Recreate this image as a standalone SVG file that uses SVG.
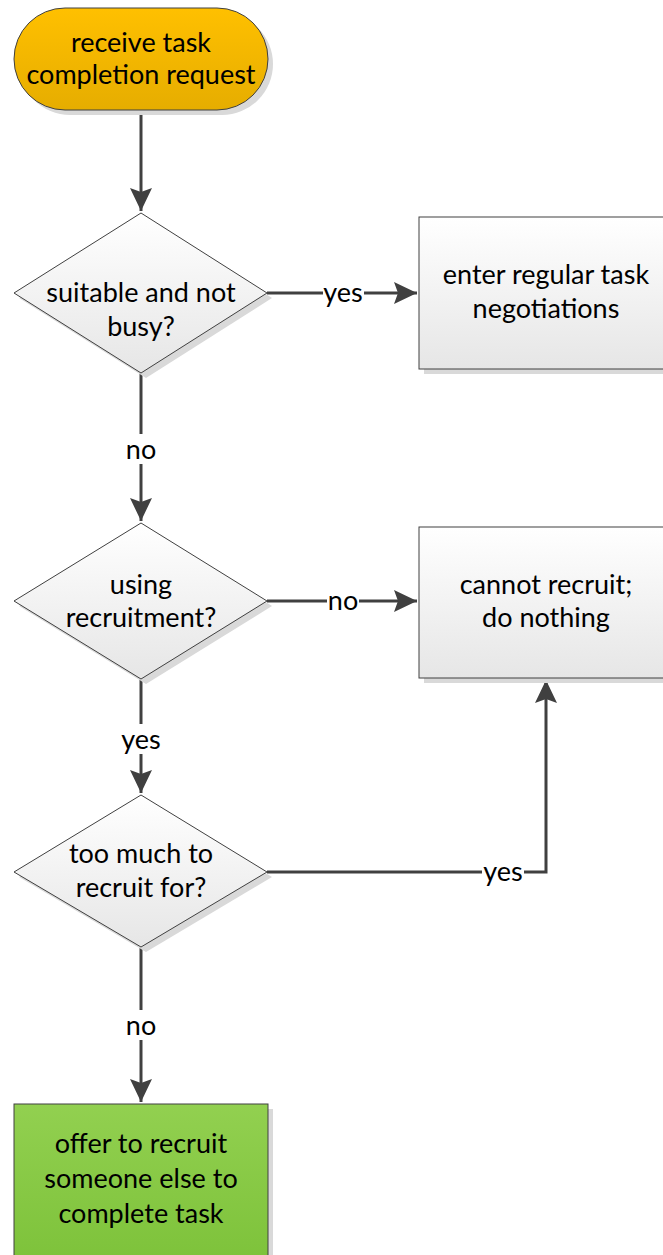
<svg xmlns="http://www.w3.org/2000/svg" width="663" height="1255" viewBox="0 0 663 1255">
<style>
text{font-family:Lato,"Liberation Sans",sans-serif;font-size:27px;fill:#000;text-anchor:middle}
.lbl{font-size:27px}
.shape{stroke:#404040;stroke-width:1}
.shadow{fill:#d9d9d9}
.conn{fill:none;stroke:#404040;stroke-width:3}
.lblbg{fill:#fff}
</style>
<defs>
<linearGradient id="gGray" x1="0" y1="0" x2="0" y2="1"><stop offset="0" stop-color="#ffffff"/><stop offset="1" stop-color="#e6e6e6"/></linearGradient>
<linearGradient id="gOrange" x1="0" y1="0" x2="0" y2="1"><stop offset="0" stop-color="#ffc000"/><stop offset="1" stop-color="#e6ad00"/></linearGradient>
<linearGradient id="gGreen" x1="0" y1="0" x2="0" y2="1"><stop offset="0" stop-color="#92d050"/><stop offset="1" stop-color="#7dc23a"/></linearGradient>
<marker id="arr" markerUnits="userSpaceOnUse" markerWidth="24" markerHeight="24" refX="23" refY="12" orient="auto"><path d="M0,1 L23,12 L0,23 L4,12 Z" fill="#404040"/></marker>
</defs>
<g id="connectors">
<path class="conn" d="M141,110 V211" marker-end="url(#arr)"/>
<path class="conn" d="M267,293 H417" marker-end="url(#arr)"/>
<path class="conn" d="M141,373 V521" marker-end="url(#arr)"/>
<path class="conn" d="M267,601 H417" marker-end="url(#arr)"/>
<path class="conn" d="M141,679 V793" marker-end="url(#arr)"/>
<path class="conn" d="M267,872 H546 V680" marker-end="url(#arr)"/>
<path class="conn" d="M141,947 V1102" marker-end="url(#arr)"/>
<rect class="lblbg" x="323" y="279" width="41" height="28"/><text class="lbl" x="343" y="302">yes</text>
<rect class="lblbg" x="125" y="434" width="32" height="30"/><text class="lbl" x="141" y="459">no</text>
<rect class="lblbg" x="327" y="587" width="32" height="28"/><text class="lbl" x="343" y="610">no</text>
<rect class="lblbg" x="120" y="724" width="42" height="30"/><text class="lbl" x="141" y="749">yes</text>
<rect class="lblbg" x="482" y="858" width="42" height="28"/><text class="lbl" x="503" y="881">yes</text>
<rect class="lblbg" x="125" y="1010" width="32" height="30"/><text class="lbl" x="141" y="1035">no</text>
</g>
<g id="start">
<rect class="shadow" x="19" y="13" width="254" height="102" rx="51"/>
<rect class="shape" x="14" y="8" width="254" height="102" rx="51" fill="url(#gOrange)"/>
<text x="141" y="52">receive task</text>
<text x="141" y="84">completion request</text>
</g>
<g id="d1">
<polygon class="shadow" points="146,218 272,298 146,378 19,298"/>
<polygon class="shape" points="141,213 267,293 141,373 14,293" fill="url(#gGray)"/>
<text x="141" y="302">suitable and not</text>
<text x="141" y="336">busy?</text>
</g>
<g id="b1">
<rect class="shadow" x="424" y="222" width="254" height="152"/>
<rect class="shape" x="419" y="217" width="254" height="152" fill="url(#gGray)"/>
<text x="546" y="284">enter regular task</text>
<text x="546" y="318">negotiations</text>
</g>
<g id="d2">
<polygon class="shadow" points="146,528 272,606 146,684 19,606"/>
<polygon class="shape" points="141,523 267,601 141,679 14,601" fill="url(#gGray)"/>
<text x="141" y="594">using</text>
<text x="141" y="627">recruitment?</text>
</g>
<g id="b2">
<rect class="shadow" x="424" y="532" width="254" height="151"/>
<rect class="shape" x="419" y="527" width="254" height="151" fill="url(#gGray)"/>
<text x="546" y="594">cannot recruit;</text>
<text x="546" y="627">do nothing</text>
</g>
<g id="d3">
<polygon class="shadow" points="146,800 272,877 146,952 19,877"/>
<polygon class="shape" points="141,795 267,872 141,947 14,872" fill="url(#gGray)"/>
<text x="141" y="863">too much to</text>
<text x="141" y="897">recruit for?</text>
</g>
<g id="b3">
<rect class="shadow" x="19" y="1109" width="254" height="160"/>
<rect class="shape" x="14" y="1104" width="254" height="160" fill="url(#gGreen)"/>
<text x="141" y="1153">offer to recruit</text>
<text x="141" y="1188">someone else to</text>
<text x="141" y="1223">complete task</text>
</g>
</svg>
